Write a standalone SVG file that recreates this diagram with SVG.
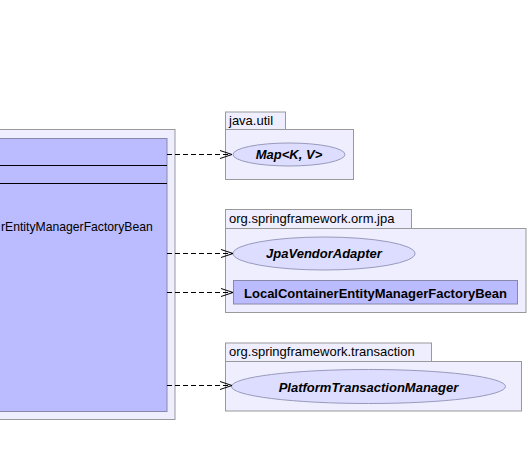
<svg xmlns="http://www.w3.org/2000/svg" width="529" height="457" viewBox="0 0 529 457">
<defs>
<style>
.pkg{fill:#EEEEFF;stroke:#999999;stroke-width:1}
.cls{fill:#BBBBFF;stroke:#8888AA;stroke-width:1}
.ifc{fill:#DDDDFF;stroke:#9999BB;stroke-width:1}
.sep{stroke:#000000;stroke-width:1}
.t{font-family:"Liberation Sans",Arial,sans-serif;font-size:13px;fill:#000}
.bi{font-family:"Liberation Sans",Arial,sans-serif;font-size:13px;font-weight:bold;font-style:italic;fill:#000}
.b{font-family:"Liberation Sans",Arial,sans-serif;font-size:13px;font-weight:bold;fill:#000}
.dep{stroke:#000;stroke-width:1;fill:none;stroke-dasharray:5,3}
.head{stroke:#000;stroke-width:1;fill:none}
</style>
</defs>
<rect width="529" height="457" fill="#FFFFFF"/>
<g id="main">
<rect class="pkg" x="-10" y="129.5" width="185" height="290"/>
<rect class="cls" x="-10" y="138.5" width="177" height="273"/>
<line class="sep" x1="-10" y1="165.5" x2="167" y2="165.5"/>
<line class="sep" x1="-10" y1="183.5" x2="167" y2="183.5"/>
<text class="t" x="1" y="230.5" style="font-size:12.2px">rEntityManagerFactoryBean</text>
</g>
<g id="pkg-java-util">
<rect class="pkg" x="225.5" y="112" width="60" height="17.5"/>
<rect class="pkg" x="225.5" y="129.5" width="128" height="50"/>
<text class="t" x="229" y="125">java.util</text>
</g>
<g id="map">
<ellipse class="ifc" cx="289" cy="154.5" rx="56" ry="11.5"/>
<text class="bi" x="289" y="159" text-anchor="middle">Map&lt;K, V&gt;</text>
</g>
<g id="pkg-orm-jpa">
<rect class="pkg" x="225.5" y="209.5" width="186" height="19"/>
<rect class="pkg" x="225.5" y="228.5" width="300.5" height="84"/>
<text class="t" x="229" y="223">org.springframework.orm.jpa</text>
</g>
<g id="jpa-vendor-adapter">
<ellipse class="ifc" cx="324" cy="253.5" rx="91" ry="16.5"/>
<text class="bi" x="324" y="258" text-anchor="middle">JpaVendorAdapter</text>
</g>
<g id="lcemfb">
<rect class="cls" x="233.5" y="280.5" width="284" height="23.5"/>
<text class="b" x="375.5" y="297.5" text-anchor="middle">LocalContainerEntityManagerFactoryBean</text>
</g>
<g id="pkg-transaction">
<rect class="pkg" x="225.5" y="343" width="206" height="18.5"/>
<rect class="pkg" x="225.5" y="361.5" width="296" height="49.5"/>
<text class="t" x="229" y="356">org.springframework.transaction</text>
</g>
<g id="ptm">
<ellipse class="ifc" cx="368.5" cy="386.5" rx="137" ry="17"/>
<text class="bi" x="368.5" y="391.5" text-anchor="middle">PlatformTransactionManager</text>
</g>
<g id="connectors">
<line class="dep" x1="167" y1="154.5" x2="232" y2="154.5"/>
<polyline class="head" points="220,150.5 232,154.5 220,158.5"/>
<line class="dep" x1="167" y1="253.5" x2="233" y2="253.5"/>
<polyline class="head" points="221,249.5 233,253.5 221,257.5"/>
<line class="dep" x1="167" y1="292.5" x2="233" y2="292.5"/>
<polyline class="head" points="221,288.5 233,292.5 221,296.5"/>
<line class="dep" x1="167" y1="385.5" x2="232" y2="385.5"/>
<polyline class="head" points="220,381.5 232,385.5 220,389.5"/>
</g>
</svg>
